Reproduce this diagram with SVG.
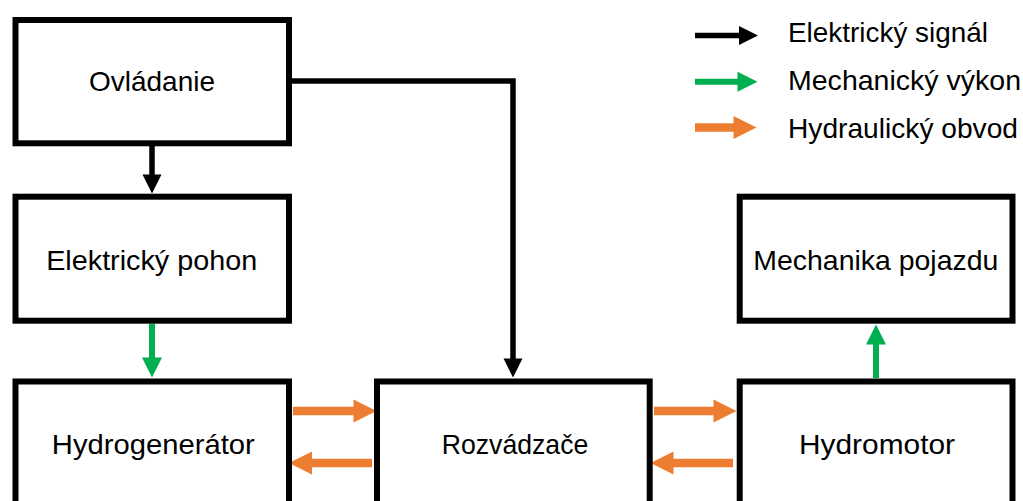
<svg xmlns="http://www.w3.org/2000/svg" width="1023" height="501" viewBox="0 0 1023 501">
  <style>
    .box { fill: #ffffff; stroke: #000000; stroke-width: 6; }
    .label { font-family: "Liberation Sans", Arial, sans-serif; font-size: 28px; fill: #000000; }
    .mid { text-anchor: middle; }
    .sig { fill: none; stroke: #000000; stroke-width: 5.5; }
    .mech { fill: none; stroke: #00B050; stroke-width: 6; }
    .hyd { fill: none; stroke: #ED7D31; stroke-width: 8.5; }
    .sig-end { marker-end: url(#head-sig); }
    .mech-end { marker-end: url(#head-mech); }
    .hyd-end { marker-end: url(#head-hyd); }
  </style>
  <defs>
    <marker id="head-sig" markerUnits="userSpaceOnUse" viewBox="0 0 19 20" markerWidth="19" markerHeight="20" refX="0.5" refY="10" orient="auto" overflow="visible">
      <path d="M0,0.5 L19,10 L0,19.5 Z" fill="#000000"/>
    </marker>
    <marker id="head-mech" markerUnits="userSpaceOnUse" viewBox="0 0 20 21" markerWidth="20" markerHeight="21" refX="0.5" refY="10.5" orient="auto" overflow="visible">
      <path d="M0,0.5 L20,10.5 L0,20.5 Z" fill="#00B050"/>
    </marker>
    <marker id="head-hyd" markerUnits="userSpaceOnUse" viewBox="0 0 23 23" markerWidth="23" markerHeight="23" refX="0.5" refY="11.5" orient="auto" overflow="visible">
      <path d="M0,0 L23,11.5 L0,23 Z" fill="#ED7D31"/>
    </marker>
  </defs>

  <rect width="1023" height="501" fill="#ffffff"/>

  <!-- connectors -->
  <g id="connectors">
    <path class="sig sig-end" d="M152,146 V175"/>
    <path class="mech mech-end" d="M152,324 V358"/>
    <path class="sig sig-end" d="M292,81 H513 V359"/>
    <path class="mech mech-end" d="M876,378 V344"/>
    <path class="hyd hyd-end" d="M293,411 H354"/>
    <path class="hyd hyd-end" d="M372,463 H311.5"/>
    <path class="hyd hyd-end" d="M654,411 H714"/>
    <path class="hyd hyd-end" d="M733,463 H673"/>
  </g>

  <!-- blocks -->
  <g id="ovladanie">
    <rect class="box" x="15.5" y="20" width="273.5" height="123.3"/>
    <text class="label mid" x="152" y="90.7" textLength="126" lengthAdjust="spacingAndGlyphs">Ovládanie</text>
  </g>
  <g id="elektricky-pohon">
    <rect class="box" x="15.5" y="196.7" width="273.5" height="124"/>
    <text class="label mid" x="151.7" y="269.5" textLength="211" lengthAdjust="spacingAndGlyphs">Elektrický pohon</text>
  </g>
  <g id="hydrogenerator">
    <rect class="box" x="15.5" y="381.5" width="273.5" height="140"/>
    <text class="label mid" x="153.3" y="453.5" textLength="203" lengthAdjust="spacingAndGlyphs">Hydrogenerátor</text>
  </g>
  <g id="rozvadzace">
    <rect class="box" x="377" y="381.5" width="272.7" height="140"/>
    <text class="label mid" x="515" y="454" textLength="146.6" lengthAdjust="spacingAndGlyphs">Rozvádzače</text>
  </g>
  <g id="hydromotor">
    <rect class="box" x="739.7" y="381.5" width="272.8" height="140"/>
    <text class="label mid" x="877" y="453.5" textLength="156" lengthAdjust="spacingAndGlyphs">Hydromotor</text>
  </g>
  <g id="mechanika-pojazdu">
    <rect class="box" x="739.7" y="196.7" width="272.8" height="124"/>
    <text class="label mid" x="875.8" y="270" textLength="245" lengthAdjust="spacingAndGlyphs">Mechanika pojazdu</text>
  </g>

  <!-- legend -->
  <g id="legend">
    <path class="sig sig-end" d="M695,35.5 H739.5"/>
    <text class="label" x="788" y="41.7" textLength="200" lengthAdjust="spacingAndGlyphs">Elektrický signál</text>
    <path class="mech mech-end" d="M695,81.7 H738"/>
    <text class="label" x="788" y="90.3" textLength="233" lengthAdjust="spacingAndGlyphs">Mechanický výkon</text>
    <path class="hyd hyd-end" d="M695,127.5 H734"/>
    <text class="label" x="788" y="138" textLength="230" lengthAdjust="spacingAndGlyphs">Hydraulický obvod</text>
  </g>
</svg>
